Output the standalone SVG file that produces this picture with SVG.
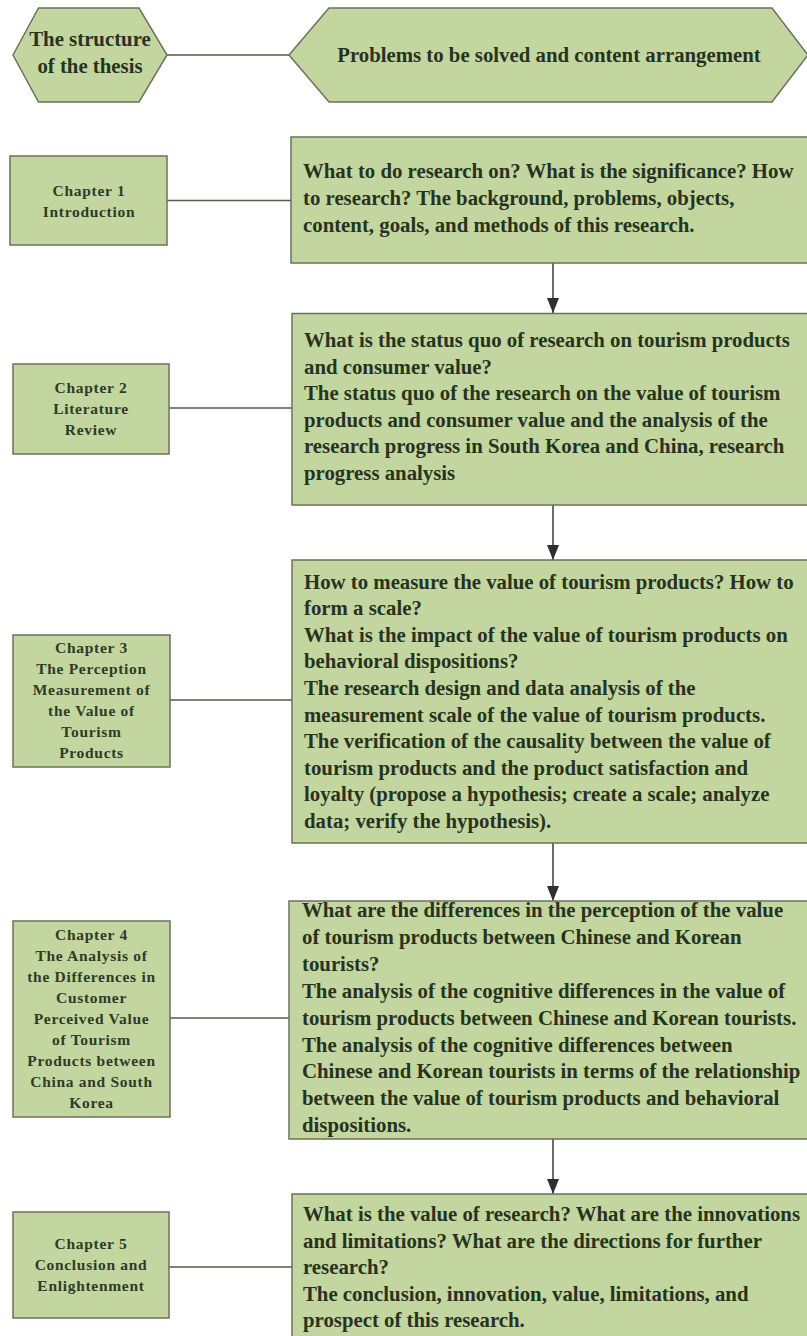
<svg xmlns="http://www.w3.org/2000/svg" width="807" height="1336" viewBox="0 0 807 1336">
  <defs>
    <style>
      .shape { fill: #c3d69f; stroke: #6b735c; stroke-width: 1.5; }
      .link { stroke: #555a50; stroke-width: 1.6; fill: none; }
      .flow { stroke: #4a4a4a; stroke-width: 1.6; fill: none; marker-end: url(#arrow); }
      .head { font-family: "Liberation Serif", "Times New Roman", serif; font-weight: bold; font-size: 20.8px; fill: #27331f; text-anchor: middle; }
      .chap { font-family: "Liberation Serif", "Times New Roman", serif; font-weight: bold; font-size: 15.5px; letter-spacing: 0.7px; fill: #2e3b27; text-anchor: middle; }
      .body { font-family: "Liberation Serif", "Times New Roman", serif; font-weight: bold; font-size: 20.8px; fill: #27331f; }
    </style>
    <marker id="arrow" markerWidth="16" markerHeight="12" refX="15" refY="6" orient="auto" markerUnits="userSpaceOnUse">
      <path d="M0,0 L15,6 L0,12 Z" fill="#2f2f2f"/>
    </marker>
  </defs>

  <rect width="807" height="1336" fill="#ffffff"/>

  <!-- connectors -->
  <g id="connectors">
    <line class="link" x1="167" y1="55" x2="289" y2="55"/>
    <line class="link" x1="167" y1="200.5" x2="291" y2="200.5"/>
    <line class="link" x1="169" y1="408" x2="292" y2="408"/>
    <line class="link" x1="170" y1="700" x2="292" y2="700"/>
    <line class="link" x1="170" y1="1018" x2="289" y2="1018"/>
    <line class="link" x1="169" y1="1267" x2="292" y2="1267"/>
    <line class="flow" x1="553" y1="263" x2="553" y2="313"/>
    <line class="flow" x1="553" y1="505" x2="553" y2="560"/>
    <line class="flow" x1="553" y1="843" x2="553" y2="901"/>
    <line class="flow" x1="553" y1="1139" x2="553" y2="1194"/>
  </g>

  <!-- header hexagons -->
  <g id="hex-structure">
    <polygon class="shape" points="13,55 38.5,8 139,8 167,55 139,102 38.5,102"/>
    <text class="head" x="90" y="46">The structure</text>
    <text class="head" x="90" y="73">of the thesis</text>
  </g>
  <g id="hex-problems">
    <polygon class="shape" points="289,55 329,8 772,8 808,55 772,102 329,102"/>
    <text class="head" x="549" y="62">Problems to be solved and content arrangement</text>
  </g>

  <!-- chapter nodes -->
  <g id="chapter1">
    <rect class="shape" x="10" y="156" width="157" height="89"/>
    <text class="chap" x="89" y="195.5">Chapter 1</text>
    <text class="chap" x="89" y="216.5">Introduction</text>
  </g>
  <g id="chapter2">
    <rect class="shape" x="13" y="364" width="156" height="90"/>
    <text class="chap" x="91" y="392.5">Chapter 2</text>
    <text class="chap" x="91" y="413.5">Literature</text>
    <text class="chap" x="91" y="434.5">Review</text>
  </g>
  <g id="chapter3">
    <rect class="shape" x="13" y="635" width="157" height="132"/>
    <text class="chap" x="91.5" y="652.5">Chapter 3</text>
    <text class="chap" x="91.5" y="673.5">The Perception</text>
    <text class="chap" x="91.5" y="694.5">Measurement of</text>
    <text class="chap" x="91.5" y="715.5">the Value of</text>
    <text class="chap" x="91.5" y="736.5">Tourism</text>
    <text class="chap" x="91.5" y="757.5">Products</text>
  </g>
  <g id="chapter4">
    <rect class="shape" x="13" y="921" width="157" height="196"/>
    <text class="chap" x="91.5" y="939.5">Chapter 4</text>
    <text class="chap" x="91.5" y="960.5">The Analysis of</text>
    <text class="chap" x="91.5" y="981.5">the Differences in</text>
    <text class="chap" x="91.5" y="1002.5">Customer</text>
    <text class="chap" x="91.5" y="1023.5">Perceived Value</text>
    <text class="chap" x="91.5" y="1044.5">of Tourism</text>
    <text class="chap" x="91.5" y="1065.5">Products between</text>
    <text class="chap" x="91.5" y="1086.5">China and South</text>
    <text class="chap" x="91.5" y="1107.5">Korea</text>
  </g>
  <g id="chapter5">
    <rect class="shape" x="13" y="1212" width="156" height="106"/>
    <text class="chap" x="91" y="1249">Chapter 5</text>
    <text class="chap" x="91" y="1270">Conclusion and</text>
    <text class="chap" x="91" y="1291">Enlightenment</text>
  </g>

  <!-- content nodes -->
  <g id="content1">
    <rect class="shape" x="291" y="137" width="520" height="126"/>
    <text class="body" x="303" y="177.5">What to do research on? What is the significance? How</text>
    <text class="body" x="303" y="204.5">to research? The background, problems, objects,</text>
    <text class="body" x="303" y="231.5">content, goals, and methods of this research.</text>
  </g>
  <g id="content2">
    <rect class="shape" x="292" y="313.5" width="519" height="191.5"/>
    <text class="body" x="304" y="347">What is the status quo of research on tourism products</text>
    <text class="body" x="304" y="373.6">and consumer value?</text>
    <text class="body" x="304" y="400.2">The status quo of the research on the value of tourism</text>
    <text class="body" x="304" y="426.8">products and consumer value and the analysis of the</text>
    <text class="body" x="304" y="453.4">research progress in South Korea and China, research</text>
    <text class="body" x="304" y="480">progress analysis</text>
  </g>
  <g id="content3">
    <rect class="shape" x="292" y="560" width="519" height="283"/>
    <text class="body" x="304" y="588.5">How to measure the value of tourism products? How to</text>
    <text class="body" x="304" y="615.1">form a scale?</text>
    <text class="body" x="304" y="641.7">What is the impact of the value of tourism products on</text>
    <text class="body" x="304" y="668.3">behavioral dispositions?</text>
    <text class="body" x="304" y="694.9">The research design and data analysis of the</text>
    <text class="body" x="304" y="721.5">measurement scale of the value of tourism products.</text>
    <text class="body" x="304" y="748.1">The verification of the causality between the value of</text>
    <text class="body" x="304" y="774.7">tourism products and the product satisfaction and</text>
    <text class="body" x="304" y="801.3">loyalty (propose a hypothesis; create a scale; analyze</text>
    <text class="body" x="304" y="827.9">data; verify the hypothesis).</text>
  </g>
  <g id="content4">
    <rect class="shape" x="289" y="901" width="522" height="238"/>
    <text class="body" x="302" y="917">What are the differences in the perception of the value</text>
    <text class="body" x="302" y="943.9">of tourism products between Chinese and Korean</text>
    <text class="body" x="302" y="970.8">tourists?</text>
    <text class="body" x="302" y="997.7">The analysis of the cognitive differences in the value of</text>
    <text class="body" x="302" y="1024.6">tourism products between Chinese and Korean tourists.</text>
    <text class="body" x="302" y="1051.5">The analysis of the cognitive differences between</text>
    <text class="body" x="302" y="1078.4">Chinese and Korean tourists in terms of the relationship</text>
    <text class="body" x="302" y="1105.3">between the value of tourism products and behavioral</text>
    <text class="body" x="302" y="1132.2">dispositions.</text>
  </g>
  <g id="content5">
    <rect class="shape" x="292" y="1194" width="519" height="150"/>
    <text class="body" x="303" y="1221">What is the value of research? What are the innovations</text>
    <text class="body" x="303" y="1247.5">and limitations? What are the directions for further</text>
    <text class="body" x="303" y="1274">research?</text>
    <text class="body" x="303" y="1300.5">The conclusion, innovation, value, limitations, and</text>
    <text class="body" x="303" y="1327">prospect of this research.</text>
  </g>
</svg>
